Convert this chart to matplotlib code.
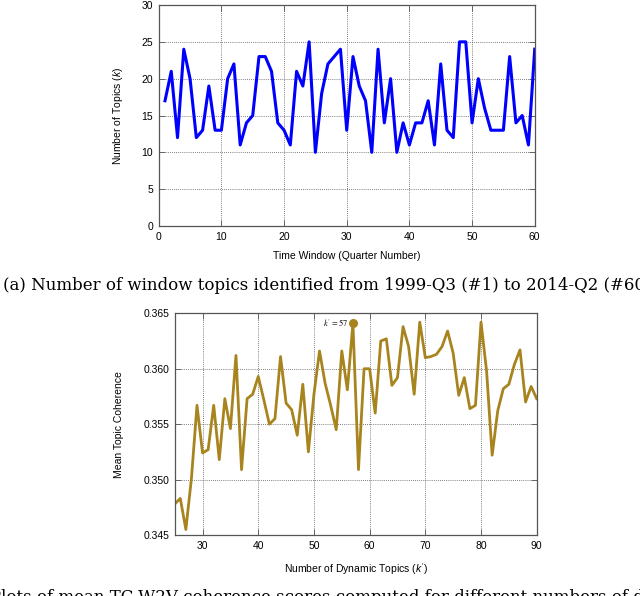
import numpy as np
import matplotlib
matplotlib.use("Agg")
from matplotlib import pyplot as plt

plt.rcParams['font.family'] = ['Liberation Sans', 'DejaVu Sans']
plt.rcParams['mathtext.fontset'] = 'custom'
plt.rcParams['mathtext.it'] = 'Liberation Sans:italic'
plt.rcParams['mathtext.rm'] = 'Liberation Sans'

# (a) number of window topics per time window
windows = list(range(1, 61))
topics = [17, 21, 12, 24, 20, 12, 13, 19, 13, 13,
          20, 22, 11, 14, 15, 23, 23, 21, 14, 13,
          11, 21, 19, 25, 10, 18, 22, 23, 24, 13,
          23, 19, 17, 10, 24, 14, 20, 10, 14, 11,
          14, 14, 17, 11, 22, 13, 12, 25, 25, 14,
          20, 16, 13, 13, 13, 23, 14, 15, 11, 24]

# (b) mean topic coherence per number of dynamic topics
dyn_k = list(range(25, 91))
coherence = [0.3478, 0.3483, 0.3455, 0.3501, 0.3567, 0.3524, 0.3527, 0.3567, 0.3518, 0.3573,
             0.3546, 0.3612, 0.3509, 0.3573, 0.3577, 0.3593, 0.3572, 0.3550, 0.3555, 0.3611,
             0.3569, 0.3563, 0.3540, 0.3586, 0.3525, 0.3577, 0.3616, 0.3587, 0.3567, 0.3545,
             0.3616, 0.3581, 0.3641, 0.3509, 0.3600, 0.3600, 0.3560, 0.3625, 0.3627, 0.3585,
             0.3592, 0.3638, 0.3620, 0.3577, 0.3642, 0.3610, 0.3611, 0.3613, 0.3620, 0.3634,
             0.3614, 0.3576, 0.3592, 0.3564, 0.3567, 0.3642, 0.3598, 0.3522, 0.3562, 0.3582,
             0.3586, 0.3604, 0.3617, 0.3570, 0.3584, 0.3573]
best_k = 57
best_val = 0.3641

fig = plt.figure(figsize=(6.4, 5.96), dpi=100)

def style(ax):
    ax.grid(True, color='#555555', linestyle=(0, (1, 1.5)), linewidth=0.6)
    ax.set_axisbelow(True)
    ax.tick_params(direction='in', top=True, right=True, length=4, width=0.6,
                   colors='#555555', labelcolor='black', labelsize=7.5, pad=4)
    for s in ax.spines.values():
        s.set_color('#555555')
        s.set_linewidth(0.9)

# top plot
ax1 = fig.add_axes([0.248, 0.6208, 0.5875, 0.3708])
ax1.plot(windows, topics, color='#0000ff', linewidth=2.2)
ax1.set_xlim(0, 60)
ax1.set_ylim(0, 30)
ax1.set_xticks(range(0, 61, 10))
ax1.set_yticks(range(0, 31, 5))
style(ax1)
ax1.set_xlabel('Time Window (Quarter Number)', fontsize=7.5, labelpad=7)
ax1.set_ylabel('Number of Topics ($k$)', fontsize=7.5, labelpad=12)

fig.text(0.005, 1 - 285 / 596, '(a) Number of window topics identified from 1999-Q3 (#1) to 2014-Q2 (#60)',
         family='DejaVu Serif', fontsize=12, ha='left', va='center')

# bottom plot
ax2 = fig.add_axes([0.273, 0.1023, 0.5656, 0.372])
ax2.plot(dyn_k, coherence, color='#a8841e', linewidth=2.0)
ax2.plot([best_k], [best_val], 'o', color='#a8841e', markersize=5.5)
ax2.text(best_k - 0.9, best_val, "$k' = 57$", fontsize=6, ha='right', va='center',
         math_fontfamily='stix')
ax2.set_xlim(25, 90)
ax2.set_ylim(0.345, 0.365)
ax2.set_xticks(range(30, 91, 10))
ax2.set_yticks([0.345, 0.350, 0.355, 0.360, 0.365])
ax2.set_yticklabels(['0.345', '0.350', '0.355', '0.360', '0.365'])
style(ax2)
ax2.set_xlabel("Number of Dynamic Topics ($k'$)", fontsize=7.5, labelpad=8)
ax2.set_ylabel('Mean Topic Coherence', fontsize=7.5, labelpad=14)

fig.text(0.5 + 40 / 640, 1 - 597 / 596,
         "(b) Plots of mean TC-W2V coherence scores computed for different numbers of dynamic topics",
         family='DejaVu Serif', fontsize=12, ha='center', va='center')

fig.savefig('out.png', dpi=100)
